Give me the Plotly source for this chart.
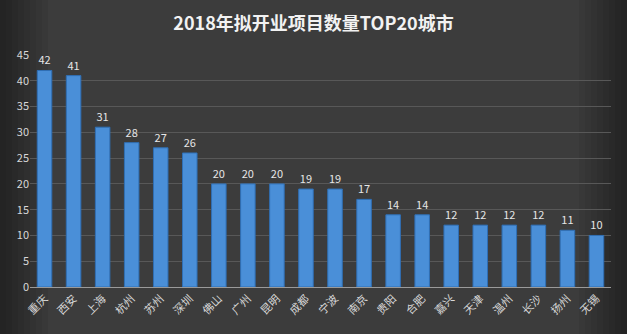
import plotly.graph_objects as go

cities = ["重庆", "西安", "上海", "杭州", "苏州", "深圳", "佛山", "广州", "昆明", "成都",
          "宁波", "南京", "贵阳", "合肥", "嘉兴", "天津", "温州", "长沙", "扬州", "无锡"]
counts = [42, 41, 31, 28, 27, 26, 20, 20, 20, 19, 19, 17, 14, 14, 12, 12, 12, 12, 11, 10]
y_ticks = [0, 5, 10, 15, 20, 25, 30, 35, 40, 45]

font = "Noto Sans CJK SC, Noto Sans, sans-serif"

W, H = 627, 334
ML, MR, MT, MB = 30, 16, 55, 47
pw, ph = W - ML - MR, H - MT - MB

fig = go.Figure(go.Bar(
    x=cities, y=counts,
    marker=dict(color="#4a8fd8", line=dict(color="#2f6fb5", width=1)),
    width=0.5,
    text=counts, textposition="outside",
    textfont=dict(color="#e6e6e6", size=11, family=font),
    cliponaxis=False,
))

# subtle vignette: darker toward left/right page edges
shapes = []
steps = 8
for i in range(steps):
    w = (steps - i) * 6
    a = 0.05
    shapes.append(dict(type="rect", xref="paper", yref="paper", layer="below",
                       x0=-ML / pw, x1=(-ML + w) / pw, y0=-MB / ph, y1=(H - MB) / ph,
                       fillcolor=f"rgba(0,0,0,{a})", line=dict(width=0)))
    shapes.append(dict(type="rect", xref="paper", yref="paper", layer="below",
                       x0=1 + (MR - w) / pw, x1=1 + MR / pw, y0=-MB / ph, y1=(H - MB) / ph,
                       fillcolor=f"rgba(0,0,0,{a})", line=dict(width=0)))

fig.update_layout(
    width=W, height=H,
    margin=dict(l=ML, r=MR, t=MT, b=MB),
    paper_bgcolor="#3c3c3c", plot_bgcolor="rgba(0,0,0,0)",
    title=dict(text="<b>2018年拟开业项目数量TOP20城市</b>", x=0.5, xanchor="center",
               y=0.93, yanchor="middle",
               font=dict(color="#f2f2f2", size=18, family=font)),
    showlegend=False,
    bargap=0.5,
    shapes=shapes,
)
fig.update_yaxes(range=[0, 45], tickvals=y_ticks, showgrid=True, gridcolor="#585858", gridwidth=1,
                 zeroline=False, tickfont=dict(color="#d8d8d8", size=11, family=font),
                 ticks="", showline=False)
fig.update_xaxes(tickangle=-45, tickfont=dict(color="#d8d8d8", size=11, family=font),
                 showline=True, linecolor="#9a9a9a", linewidth=1, ticks="")

fig.write_html("out.html")
